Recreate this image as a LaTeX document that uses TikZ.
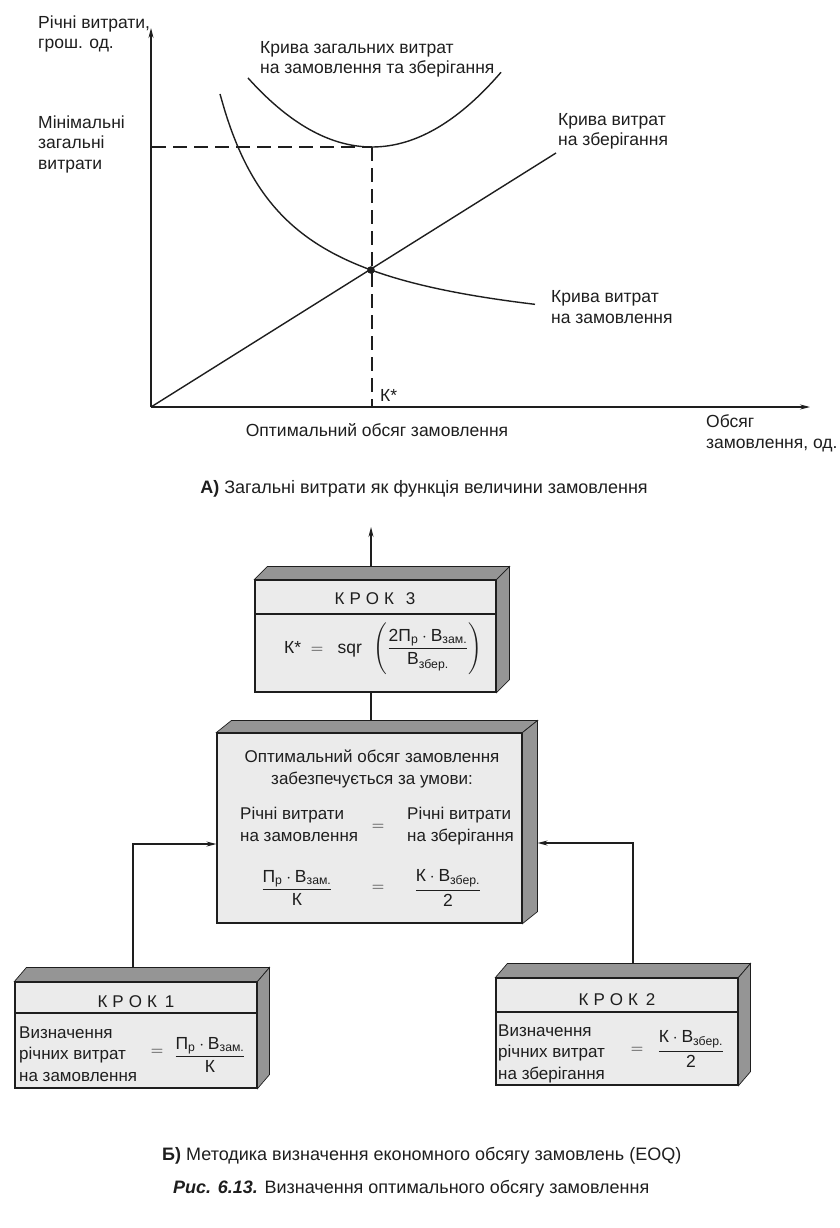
\documentclass[tikz,border=0pt]{standalone}
\usepackage{amsmath}
\usepackage{fontspec}
\setmainfont{Liberation Sans}
\usetikzlibrary{arrows.meta,calc}
\definecolor{ink}{HTML}{1E1E1E}
\definecolor{facegray}{HTML}{EBEBEB}
\definecolor{extgray}{HTML}{959595}
\newcommand\tx[1]{\text{#1}}
\newcommand\extrude[3]{%
  \filldraw[extface] (#1.north west) -- ++(#2,-#3) -- ([xshift=#2pt,yshift=#3pt]#1.north east) -- (#1.north east) -- cycle;
  \filldraw[extface] (#1.north east) -- ([xshift=#2pt,yshift=#3pt]#1.north east) -- ([xshift=#2pt,yshift=#3pt]#1.south east) -- (#1.south east) -- cycle;}
\begin{document}
\begin{tikzpicture}[x=1pt,y=-1pt,
  ln/.style={line width=1.4pt, draw=ink},
  arr/.style={line width=1.2pt, draw=ink, -{Stealth[length=10pt,width=5pt]}},
  dsh/.style={line width=1.1pt, draw=ink, dash pattern=on 14pt off 7pt},
  lbl/.style={inner sep=0pt, font=\fontsize{17.5}{20.5}\selectfont, align=left, anchor=base west, text=ink},
  captxt/.style={inner sep=0pt, font=\fontsize{18}{20}\selectfont, text=ink},
  frontface/.style={draw=ink, line width=1.1pt, fill=facegray, inner sep=0pt},
  extface/.style={fill=extgray, draw=ink, line width=0.7pt},
  hdr/.style={inner sep=0pt, font=\fontsize{17}{22.5}\selectfont, text=ink},
  btxt/.style={inner sep=0pt, font=\fontsize{17}{21.5}\selectfont, align=left, anchor=base west, text=ink},
  frm/.style={inner sep=0pt, font=\fontsize{17.5}{20}\selectfont, text=ink}
]
\useasboundingbox (0,0) rectangle (839,1228);
\fill[white] (0,0) rectangle (839,1228);

% ---------- graph ----------
\coordinate (O) at (151,407);
\coordinate (ytip) at (151,28);
\coordinate (xtip) at (810,407);
\coordinate (M) at (372,147);
\coordinate (Kx) at (372,407);
\draw[dsh] (152,147) -- (M);
\draw[dsh] (M) -- (Kx);
\draw[arr] (O) -- (ytip);
\draw[arr] (O) -- (xtip);
\draw[ln] (O) -- (556,153);
\draw[ln] plot[domain=220:535, samples=60, smooth] (\x, {350.4 - 176.93/((\x-151)/100)});
\draw[ln] plot[domain=248:501, samples=60, smooth] (\x, {147 - 0.449*((\x-372)/10)^2});
\fill[ink] (371,270) circle (3.8pt);

\node[lbl] (ylab) at (38,49) {Річні витрати,\\грош. од.};
\node[lbl] (minlab) at (38,169) {Мінімальні\\загальні\\витрати};
\node[lbl] (totlab) at (260,74) {Крива загальних витрат\\на замовлення та зберігання};
\node[lbl] (storlab) at (558,146) {Крива витрат\\на зберігання};
\node[lbl] (ordlab) at (551,323) {Крива витрат\\на замовлення};
\node[lbl] (kstar) at (380,401) {К*};
\node[captxt, font=\fontsize{17.5}{20}\selectfont, anchor=base] (optlab) at (377,436) {Оптимальний обсяг замовлення};
\node[lbl] (xlab) at (706,448) {Обсяг\\замовлення, од.};
\node[captxt, anchor=base] (capA) at (424,493) {\textbf{А)} Загальні витрати як функція величини замовлення};

% ---------- boxes ----------
\node[frontface, minimum width=241pt, minimum height=112pt] (k3) at (375.5,636) {};
\extrude{k3}{13}{13}
\draw[ln, line width=1.1pt] (k3.west |- 0,614) -- (k3.east |- 0,614);
\node[hdr] (k3h) at (375,599) {К\hspace{5pt}Р\hspace{5pt}О\hspace{5pt}К\hspace{12pt}3};
\node[frm, anchor=west] (k3f) at (284,650) {$\tx{К*}\;=\;\;\tx{sqr}\hspace{9pt}\left(\vrule height 30pt depth 24pt width 0pt\dfrac{\tx{2П}_{\tx{р}}\cdot\tx{В}_{\tx{зам.}}}{\tx{В}_{\tx{збер.}}}\right)$};

\node[frontface, minimum width=305pt, minimum height=190pt] (mid) at (369.5,828) {};
\extrude{mid}{15}{12}
\node[hdr, align=center] (midt) at (372,769) {Оптимальний обсяг замовлення\\забезпечується за умови:};
\node[btxt] (midl) at (240,841) {Річні витрати\\на замовлення};
\node[frm] (mideq1) at (378,827) {$=$};
\node[btxt] (midr) at (407,841) {Річні витрати\\на зберігання};
\node[frm] (midf1) at (297,888) {$\dfrac{\tx{П}_{\tx{р}}\cdot\tx{В}_{\tx{зам.}}}{\tx{К}}$};
\node[frm] (mideq2) at (378,888) {$=$};
\node[frm] (midf2) at (448,888) {$\dfrac{\tx{К}\cdot\tx{В}_{\tx{збер.}}}{\tx{2}}$};

\node[frontface, minimum width=242pt, minimum height=106pt] (k1) at (136,1035) {};
\extrude{k1}{12}{14}
\draw[ln, line width=1.1pt] (k1.west |- 0,1013) -- (k1.east |- 0,1013);
\node[hdr] (k1h) at (136,1002) {К\hspace{5pt}Р\hspace{5pt}О\hspace{5pt}К\hspace{8pt}1};
\node[btxt] (k1t) at (19,1081) {Визначення\\річних витрат\\на замовлення};
\node[frm] (k1eq) at (157,1052) {$=$};
\node[frm] (k1f) at (210,1055) {$\dfrac{\tx{П}_{\tx{р}}\cdot\tx{В}_{\tx{зам.}}}{\tx{К}}$};

\node[frontface, minimum width=242pt, minimum height=107pt] (k2) at (617,1031.5) {};
\extrude{k2}{12}{14}
\draw[ln, line width=1.1pt] (k2.west |- 0,1012) -- (k2.east |- 0,1012);
\node[hdr] (k2h) at (617,1000) {К\hspace{5pt}Р\hspace{5pt}О\hspace{5pt}К\hspace{8pt}2};
\node[btxt] (k2t) at (498,1079) {Визначення\\річних витрат\\на зберігання};
\node[frm] (k2eq) at (637,1050) {$=$};
\node[frm] (k2f) at (691,1049) {$\dfrac{\tx{К}\cdot\tx{В}_{\tx{збер.}}}{\tx{2}}$};

% ---------- connectors ----------
\coordinate (t3) at (371,527);
\draw[arr] ([yshift=13pt]k3.north -| t3) -- (t3);
\draw[ln, line width=1.2pt] (k3.south -| t3) -- ([yshift=12pt]mid.north -| t3);
\coordinate (c1) at (133,844);
\draw[arr] ([yshift=14pt]k1.north -| c1) |- ([yshift=-16pt]mid.west);
\coordinate (c2) at (633,843);
\draw[arr] ([yshift=14pt]k2.north -| c2) |- ([xshift=15pt,yshift=-15pt]mid.east);

\node[captxt, anchor=base west] (capB) at (162,1160) {\textbf{Б)} Методика визначення економного обсягу замовлень (EOQ)};
\node[captxt, anchor=base west] (capC) at (173,1193) {\textbf{\textit{Рис. 6.13.}} Визначення оптимального обсягу замовлення};
\end{tikzpicture}
\end{document}
